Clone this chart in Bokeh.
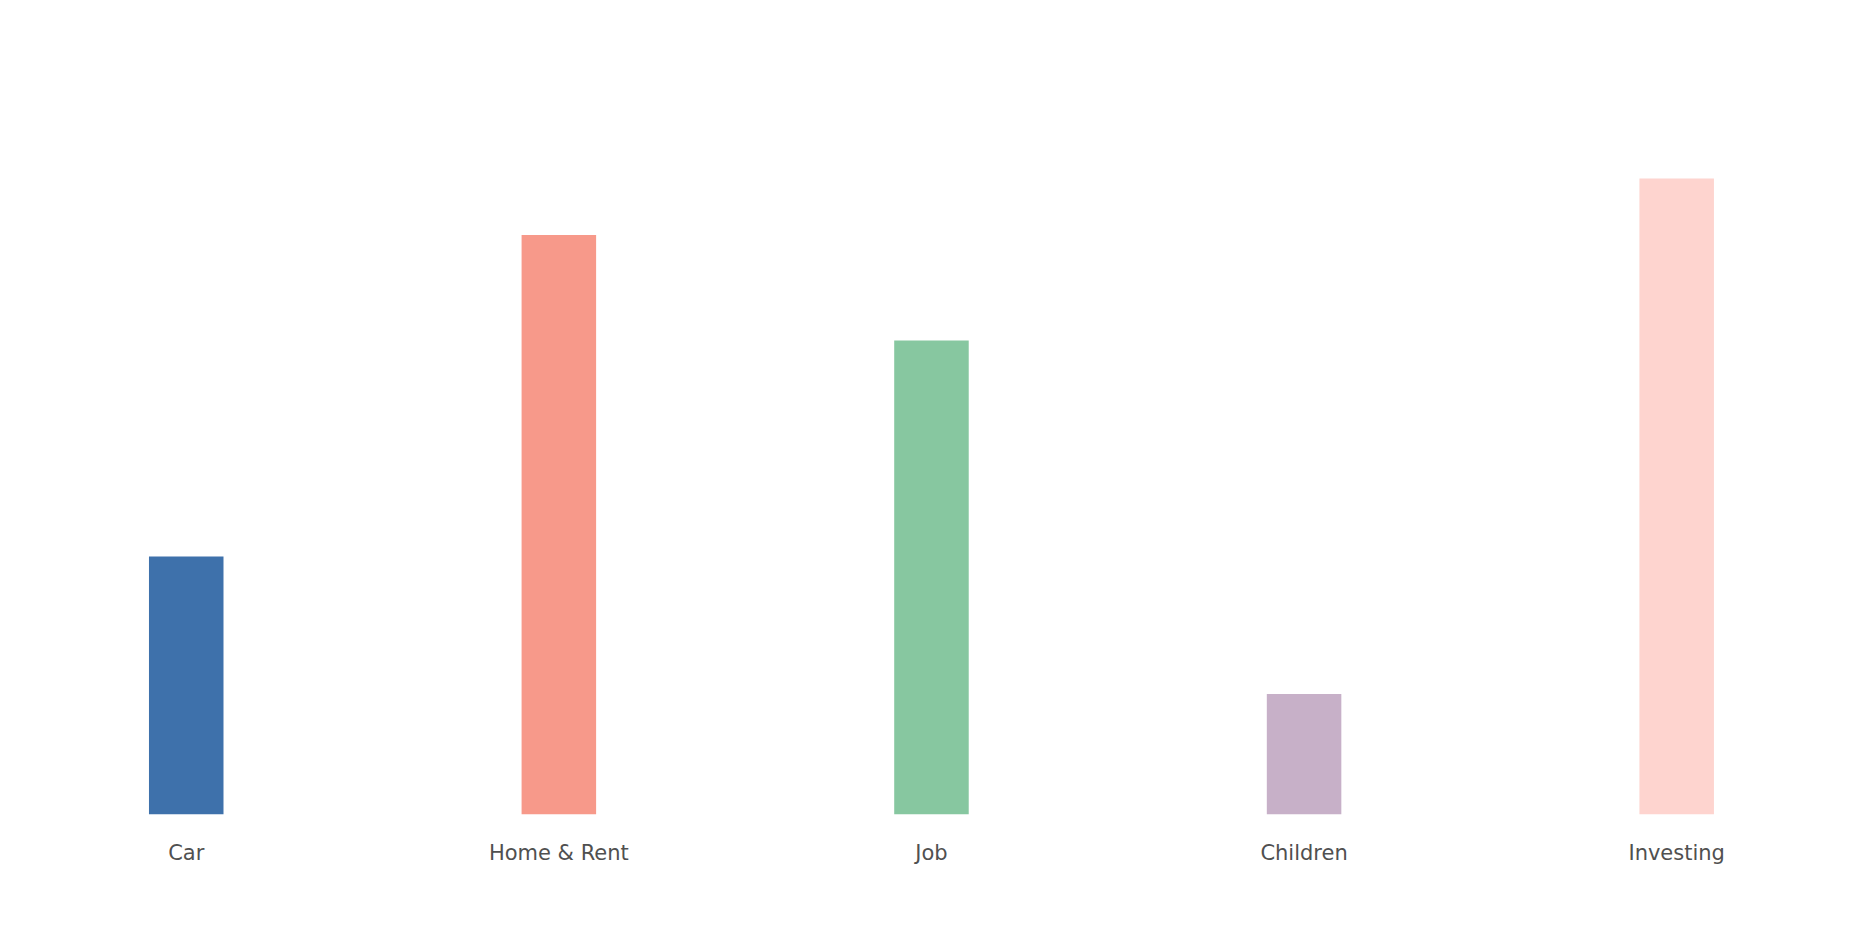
from bokeh.plotting import figure
from bokeh.models import Range1d, FixedTicker, ColumnDataSource
from bokeh.embed import file_html
from bokeh.resources import INLINE

categories = ["Car", "Home & Rent", "Job", "Children", "Investing"]
values = [430, 966, 790, 201, 1060]
colors = ["#3e71ab", "#f7998a", "#87c7a0", "#c7b0c8", "#fed4cf"]

xs = list(range(len(categories)))
src = ColumnDataSource(dict(x=xs, top=values, color=colors, name=categories))

p = figure(width=1842, height=908, output_backend="svg", toolbar_location=None,
           x_range=Range1d(-0.477, 4.445), y_range=Range1d(0, 1343.3),
           min_border_left=8, min_border_right=0, min_border_top=8, min_border_bottom=94)
p.vbar(x="x", top="top", bottom=0, width=0.2, color="color", line_color=None, source=src)

p.outline_line_color = None
p.grid.visible = False
p.yaxis.visible = False
ax = p.xaxis[0]
ax.ticker = FixedTicker(ticks=xs)
ax.major_label_overrides = {i: c for i, c in zip(xs, categories)}
ax.axis_line_color = None
ax.major_tick_line_color = None
ax.minor_tick_line_color = None
ax.major_label_standoff = 20
ax.major_label_text_font = "DejaVu Sans"
ax.major_label_text_font_size = "21px"
ax.major_label_text_color = "#505050"

open("out.html", "w").write(file_html(p, INLINE))
